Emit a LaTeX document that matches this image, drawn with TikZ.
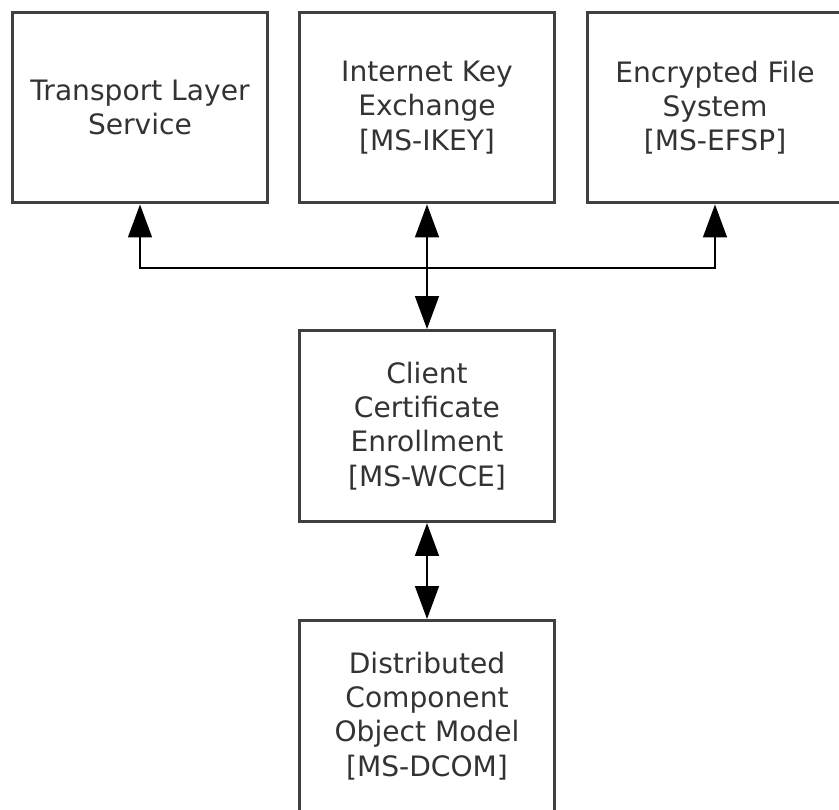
\documentclass[tikz,border=0pt]{standalone}
\usepackage{fontspec}
\setmainfont{DejaVu Sans}
\usetikzlibrary{arrows.meta}
\usetikzlibrary{positioning}

\tikzset{
	block/.style={draw=black!75, line width=0.06cm, fill=white, align=center,
		minimum width=5.12cm, minimum height=3.82cm, inner sep=0pt,
		text=black!80, font=\fontsize{16}{19.5}\selectfont},
	link/.style={draw=black, line width=0.03cm,
		{Triangle[length=0.66cm,width=0.48cm]}-{Triangle[length=0.66cm,width=0.48cm]}},
}

\begin{document}
\begin{tikzpicture}[x=0.02cm,y=-0.02cm]

	%Frame
	\useasboundingbox (0,0) rectangle (839,810);
	\clip (0,0) rectangle (839,810);

	%Top row
	\node[block] (tls) at (140,107.5) {Transport Layer\\Service};
	\node[block] (ike) at (427,107.5) {Internet Key\\Exchange\\{[MS-IKEY]}};
	\node[block] (efs) at (715,107.5) {Encrypted File\\System\\{[MS-EFSP]}};

	%Middle and bottom
	\node[block] (cce) at (427,426) {Client\\Certificate\\Enrollment\\{[MS-WCCE]}};
	\node[block] (dcom) at (427,716) {Distributed\\Component\\Object Model\\{[MS-DCOM]}};

	%Links
	\coordinate (bus) at (427,268);
	\draw[link] (tls.south) -- (tls.south |- bus) -- (efs.south |- bus) -- (efs.south);
	\draw[link] (ike.south) -- (cce.north);
	\draw[link] (cce.south) -- (dcom.north);

\end{tikzpicture}
\end{document}
